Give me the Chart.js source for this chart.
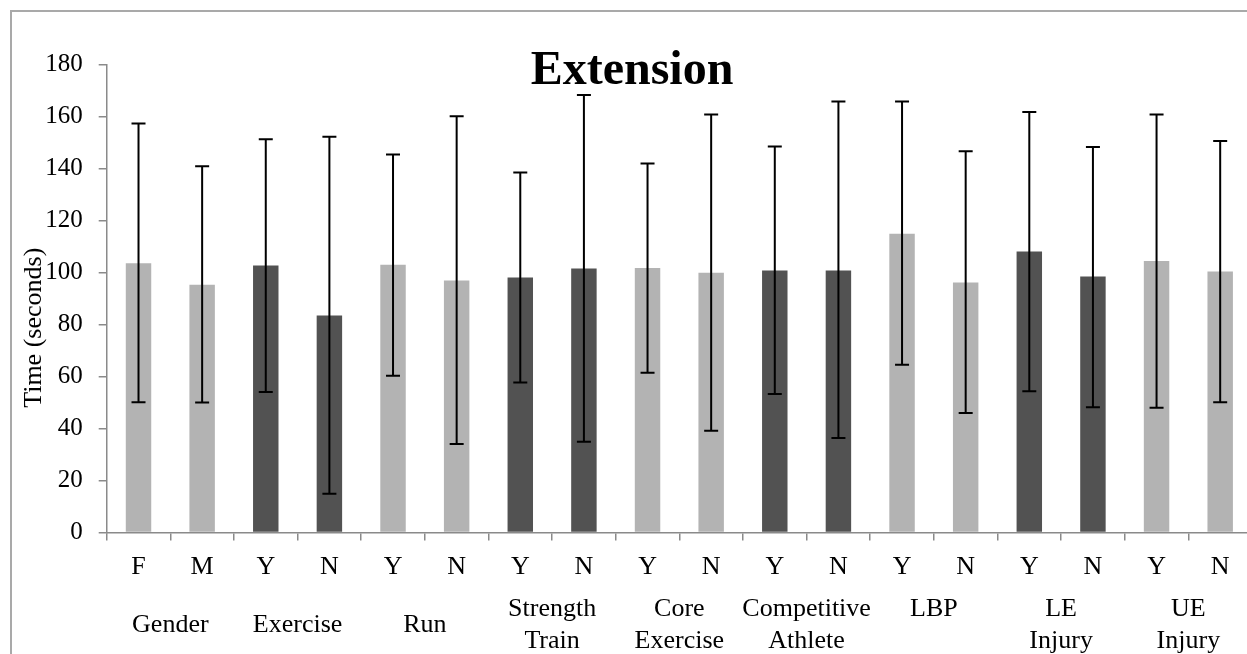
<!DOCTYPE html>
<html>
<head>
<meta charset="utf-8">
<script src="https://cdn.jsdelivr.net/npm/chart.js@4/dist/chart.umd.min.js"></script>
<style>
  html, body { margin: 0; padding: 0; background: #fff; overflow: hidden; }
  #frame {
    position: absolute;
    left: 10px;
    top: 10px;
    width: 1240px;
    height: 687px;
    border: 2px solid #a9a9a9;
    border-right: none;
    border-bottom: none;
  }
</style>
</head>
<body>
<div id="frame"><canvas id="extChart"></canvas></div>
<script>
const categories = ['F', 'M', 'Y', 'N', 'Y', 'N', 'Y', 'N', 'Y', 'N', 'Y', 'N', 'Y', 'N', 'Y', 'N', 'Y', 'N']
const groups = [
  'Gender',
  'Exercise',
  'Run',
  ['Strength', 'Train'],
  ['Core', 'Exercise'],
  ['Competitive', 'Athlete'],
  ['LBP', ''],
  ['LE', 'Injury'],
  ['UE', 'Injury'],
]
const means = [103.6, 95.3, 102.7, 83.5, 103.0, 96.9, 98.1, 101.5, 101.7, 99.9, 100.8, 100.8, 114.9, 96.2, 108.1, 98.5, 104.4, 100.4]
const upper = [157.3, 140.9, 151.3, 152.2, 145.4, 160.1, 138.5, 168.3, 141.9, 160.8, 148.5, 165.8, 165.8, 146.7, 161.8, 148.3, 160.8, 150.6]
const lower = [50.1, 50.0, 54.0, 14.9, 60.3, 34.0, 57.7, 34.9, 61.4, 39.1, 53.3, 36.3, 64.5, 45.9, 54.3, 48.2, 48.0, 50.1]

const lightColor = '#b3b3b3'
const darkColor = '#525252'
const axisColor = '#8a8a8a'

Chart.defaults.font.family = "'Liberation Serif', 'Times New Roman', serif"
Chart.defaults.color = '#000'

// whiskers drawn from the y scale, centred on each bar
const errorBars = {
  id: 'errorBars',
  afterDatasetsDraw(chart) {
    const ctx = chart.ctx
    const y = chart.scales.y
    const bars = chart.getDatasetMeta(0).data
    ctx.save()
    ctx.strokeStyle = '#000'
    ctx.lineWidth = 2
    bars.forEach((bar, i) => {
      const top = y.getPixelForValue(upper[i])
      const bottom = y.getPixelForValue(lower[i])
      ctx.beginPath()
      ctx.moveTo(bar.x, top)
      ctx.lineTo(bar.x, bottom)
      ctx.moveTo(bar.x - 7, top)
      ctx.lineTo(bar.x + 7, top)
      ctx.moveTo(bar.x - 7, bottom)
      ctx.lineTo(bar.x + 7, bottom)
      ctx.stroke()
    })
    ctx.restore()
  }
}

const chart = new Chart(document.getElementById('extChart'), {
  type: 'bar',
  data: {
    labels: categories,
    datasets: [{
      label: 'Extension',
      data: means,
      backgroundColor: ctx => (Math.floor(ctx.dataIndex / 2) % 2 ? darkColor : lightColor),
      categoryPercentage: 1,
      barPercentage: 0.4,
    }]
  },
  options: {
    responsive: true,
    maintainAspectRatio: false,
    animation: false,
    layout: {
      padding: { left: 0, right: 0, top: 0, bottom: 19 }
    },
    plugins: {
      legend: { display: false },
      tooltip: { enabled: false },
      title: {
        display: true,
        text: 'Extension',
        font: { size: 48, weight: 'bold' },
        padding: { top: 31, bottom: -36 },
      },
    },
    scales: {
      x: {
        grid: {
          offset: true,
          drawOnChartArea: false,
          tickLength: 8,
          color: axisColor,
          lineWidth: 1.5,
        },
        border: { color: axisColor, width: 1.5 },
        ticks: { font: { size: 26 }, padding: 11, maxRotation: 0, autoSkip: false },
      },
      x2: {
        type: 'category',
        position: 'bottom',
        labels: groups,
        offset: true,
        grid: { display: false },
        border: { display: false },
        ticks: { font: { size: 26 }, padding: 8, maxRotation: 0, autoSkip: false, crossAlign: 'center' },
      },
      y: {
        min: 0,
        max: 180,
        grid: {
          drawOnChartArea: false,
          tickLength: 8,
          color: axisColor,
          lineWidth: 1.5,
        },
        border: { color: axisColor, width: 1.5 },
        ticks: { stepSize: 20, font: { size: 25 }, padding: 16 },
        title: {
          display: true,
          // trailing spaces push the label a little below the axis middle, as in the original
          text: 'Time (seconds)' + '\u00a0'.repeat(9),
          font: { size: 26 },
          padding: { top: 7, bottom: -21 },
        },
      },
    },
  },
  plugins: [errorBars],
})
</script>
</body>
</html>
